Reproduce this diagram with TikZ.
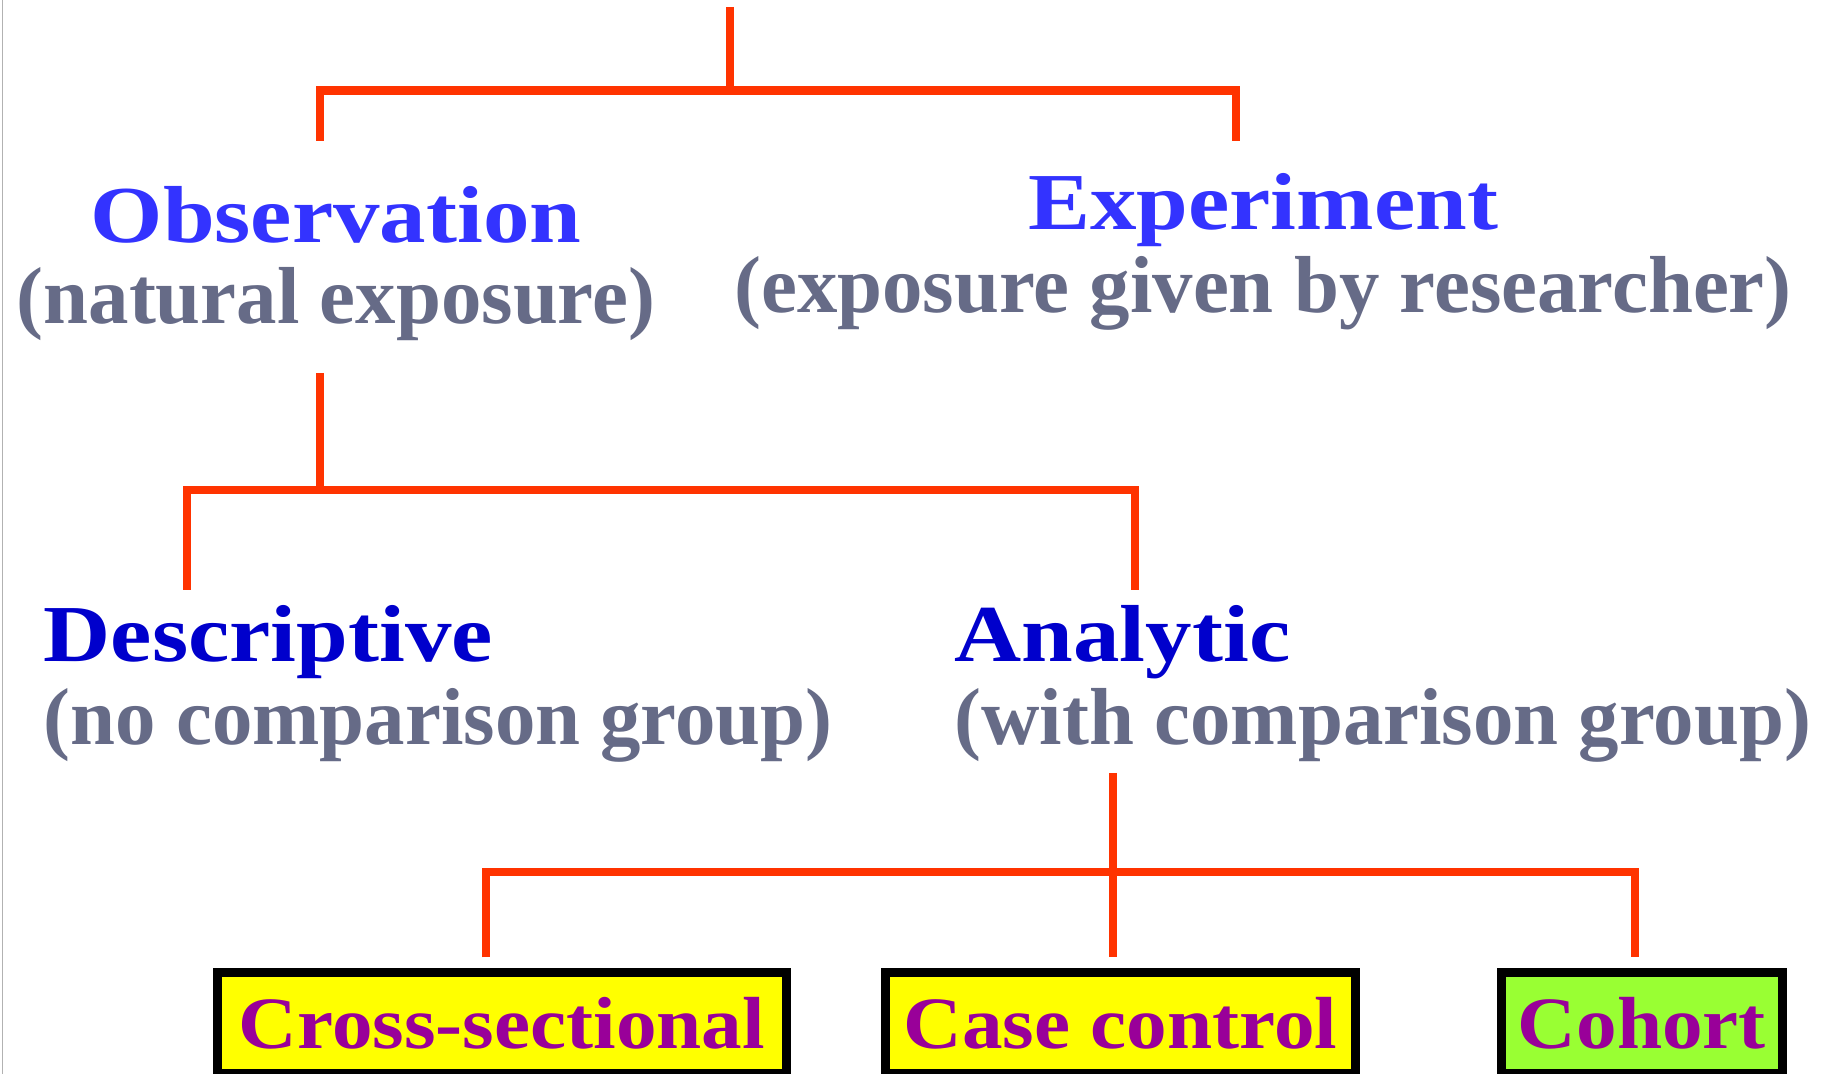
\documentclass[tikz,border=0pt]{standalone}
\usepackage{fontspec}
\setmainfont{Liberation Serif}
\newfontfamily\headfont[FakeStretch=1.15]{Liberation Serif}
\newfontfamily\boxfont[FakeStretch=1.1]{Liberation Serif}
\usetikzlibrary{positioning}
\definecolor{linered}{RGB}{255,51,0}
\definecolor{headblue}{RGB}{51,51,255}
\definecolor{deepblue}{RGB}{0,0,204}
\definecolor{notegray}{RGB}{102,107,135}
\definecolor{boxpurple}{RGB}{153,0,153}
\definecolor{boxyellow}{RGB}{255,255,0}
\definecolor{boxgreen}{RGB}{153,255,51}
\tikzset{
  branch/.style={draw=linered, line width=2.4pt, line join=miter},
  head/.style={inner sep=0pt, anchor=base, font=\headfont\bfseries\fontsize{23}{28}\selectfont},
  note/.style={inner sep=0pt, anchor=base, text=notegray, font=\bfseries\fontsize{23}{28}\selectfont},
  studybox/.style={draw=black, line width=2.6pt, inner sep=0pt, minimum height=10.1mm, text=boxpurple,
    font=\boxfont\bfseries\fontsize{21}{25}\selectfont}
}
\begin{document}
\begin{tikzpicture}[x=0.1mm, y=-0.1mm]
  \def\hy{662} \def\ny{745}
  \useasboundingbox (0,0) rectangle (1825,1074);
  \draw[gray!60, line width=0.4pt] (2.5,0) -- (2.5,1074);

  \node[head, text=headblue] (obs) at (336,243) {Observation};
  \node[note] (obs-note) at (336,324) {(natural exposure)};
  \node[head, text=headblue] (exp) at (1263,230) {Experiment};
  \node[note] (exp-note) at (1263,313) {(exposure given by researcher)};
  \node[head, text=deepblue, anchor=base west] (desc) at (43,\hy) {Descriptive};
  \node[note, anchor=base west] (desc-note) at (43,\ny) {(no comparison group)};
  \node[head, text=deepblue, anchor=base west] (ana) at (954,\hy) {Analytic};
  \node[note, anchor=base west] (ana-note) at (954,\ny) {(with comparison group)};

  \node[studybox, fill=boxyellow, minimum width=56.9mm] (cross) at (502,1023) {Cross-sectional};
  \node[studybox, fill=boxyellow, minimum width=47mm] (casectl) at (1120.5,1023) {Case control};
  \node[studybox, fill=boxgreen, minimum width=28.1mm] (cohort) at (1642,1023) {Cohort};

  \coordinate (root) at (730,7);
  \coordinate (bar1l) at (320,90.5); \coordinate (bar1r) at (1236,90.5);
  \coordinate (obs-in) at (320,141); \coordinate (exp-in) at (1236,141);
  \draw[branch] (root) -- (root |- bar1l);
  \draw[branch] (obs-in) -- (bar1l) -- (bar1r) -- (exp-in);

  \coordinate (obs-out) at (320,373);
  \coordinate (bar2l) at (187,490); \coordinate (bar2r) at (1135,490);
  \coordinate (desc-in) at (187,590); \coordinate (ana-in) at (1135,590);
  \draw[branch] (obs-out) -- (obs-out |- bar2l);
  \draw[branch] (desc-in) -- (bar2l) -- (bar2r) -- (ana-in);

  \coordinate (ana-out) at (1113,773);
  \coordinate (bar3l) at (486,872); \coordinate (bar3r) at (1635,872);
  \draw[branch] (ana-out) -- ([yshift=3pt]ana-out |- casectl.north);
  \draw[branch] ([yshift=3pt]bar3l |- cross.north) -- (bar3l) -- (bar3r) -- ([yshift=3pt]bar3r |- cohort.north);
\end{tikzpicture}
\end{document}
